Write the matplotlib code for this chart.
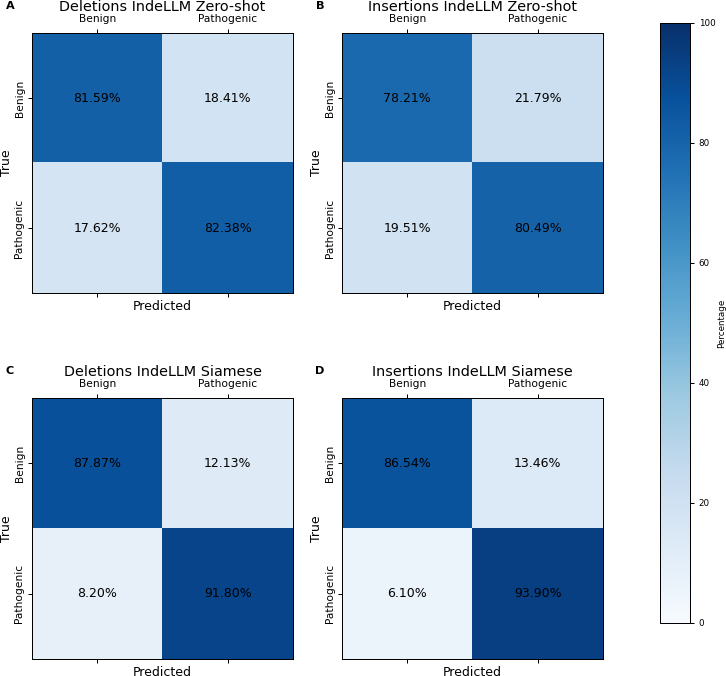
import numpy as np
import matplotlib.pyplot as plt

classes = ['Benign', 'Pathogenic']
titles = ['Deletions IndeLLM Zero-shot', 'Insertions IndeLLM Zero-shot',
          'Deletions IndeLLM Siamese', 'Insertions IndeLLM Siamese']
letters = ['A', 'B', 'C', 'D']
del_zero = [[81.59, 18.41], [17.62, 82.38]]
ins_zero = [[78.21, 21.79], [19.51, 80.49]]
del_siam = [[87.87, 12.13], [8.20, 91.80]]
ins_siam = [[86.54, 13.46], [6.10, 93.90]]
matrices = [del_zero, ins_zero, del_siam, ins_siam]

W, H, DPI = 726, 676, 90
fig = plt.figure(figsize=(W / DPI, H / DPI), dpi=DPI)

# axes boxes in pixels: left, top, right, bottom
boxes = [(32, 33, 293, 293), (342, 33, 603, 293),
         (32, 398, 293, 659), (342, 398, 603, 659)]

im = None
for box, mat, title, letter in zip(boxes, matrices, titles, letters):
    l, t, r, b = box
    ax = fig.add_axes([l / W, (H - b) / H, (r - l) / W, (b - t) / H])
    cm = np.array(mat)
    im = ax.imshow(cm, cmap='Blues', vmin=0, vmax=100, aspect='auto')
    for i in range(2):
        for j in range(2):
            ax.text(j, i, f'{cm[i, j]:.2f}%', ha='center', va='center',
                    fontsize=10, color='black')
    ax.set_xticks([0, 1])
    ax.set_yticks([0, 1])
    ax.set_xticklabels(classes, fontsize=8.5)
    ax.set_yticklabels(classes, fontsize=8.5, rotation=90, va='center')
    ax.tick_params(axis='x', top=True, labeltop=True, bottom=True, labelbottom=False)
    ax.tick_params(axis='y', pad=2.5)
    ax.set_xlabel('Predicted', fontsize=10, labelpad=2)
    ax.set_ylabel('True', fontsize=10, labelpad=1)
    ax.set_title(title, fontsize=11.5, pad=1)
    ax.text(-0.085, 1.105, letter, transform=ax.transAxes, fontsize=9,
            fontweight='bold', ha='center', va='center')

cax = fig.add_axes([660 / W, (H - 623) / H, 30 / W, 600 / H])
cbar = fig.colorbar(im, cax=cax)
cbar.set_ticks([0, 20, 40, 60, 80, 100])
cbar.ax.tick_params(labelsize=7)
cbar.set_label('Percentage', fontsize=7, labelpad=1)

plt.savefig('out.png', dpi=DPI)
plt.close()
